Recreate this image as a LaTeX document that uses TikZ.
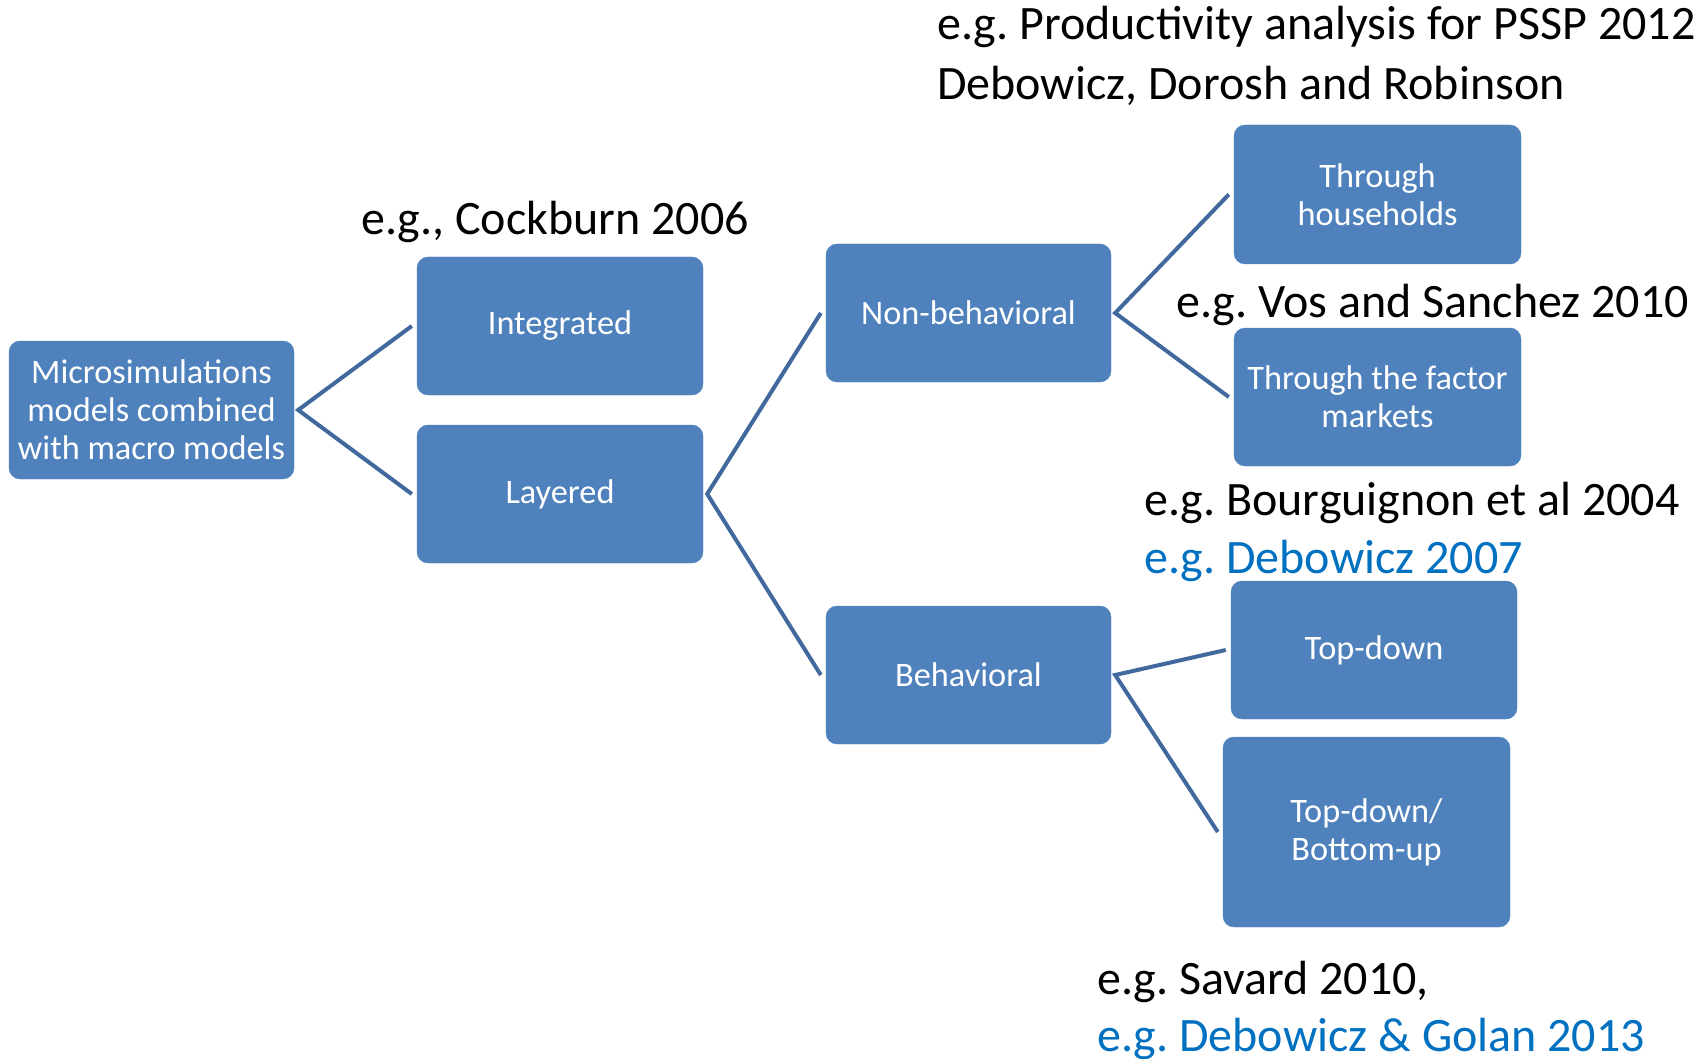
\documentclass[tikz,border=0pt]{standalone}
\usepackage{fontspec}
\setmainfont{Carlito}
\frenchspacing
\definecolor{boxblue}{HTML}{4F81BD}
\definecolor{linkblue}{HTML}{41699E}
\definecolor{refblue}{HTML}{0070C0}
\begin{document}
\begin{tikzpicture}[x=1pt,y=-1pt,
  box/.style={draw=boxblue,fill=boxblue,rounded corners=11pt,minimum width=286pt,minimum height=138pt,
    text=white,align=center,font=\fontsize{34.3}{38}\selectfont,inner sep=0pt},
  link/.style={draw=linkblue,line width=4pt},
  note/.style={anchor=base west,inner sep=0pt,font=\fontsize{48}{58}\selectfont,text=black},
  bluenote/.style={note,text=refblue}]
\useasboundingbox (0,0) rectangle (1708,1059);
\fill[white] (0,0) rectangle (1708,1059);

\node[box,minimum width=285pt] (micro) at (151.5,410) {Microsimulations\\models combined\\with macro models};
\node[box] (integ) at (560,326) {Integrated};
\node[box] (layer) at (560,494) {Layered};
\node[box,minimum width=285pt] (nonbeh) at (968.5,313) {Non-behavioral};
\node[box,minimum width=285pt] (beh) at (968.5,675) {Behavioral};
\node[box,minimum width=287pt,minimum height=139pt] (house) at (1377.5,194.5) {Through\\households};
\node[box,minimum width=287pt] (factor) at (1377.5,397) {Through the factor\\markets};
\node[box] (topdown) at (1374,650) {Top-down};
\node[box,minimum width=287pt,minimum height=190pt] (tdbu) at (1366.5,832) {Top-down/\\Bottom-up};

\draw[link] ([xshift=-5pt]integ.west) -- ([xshift=4pt]micro.east) -- ([xshift=-5pt]layer.west);
\draw[link] ([xshift=-5pt]nonbeh.west) -- ([xshift=4pt]layer.east) -- ([xshift=-5pt]beh.west);
\draw[link] ([xshift=-5pt]house.west) -- ([xshift=4pt]nonbeh.east) -- ([xshift=-5pt]factor.west);
\draw[link] ([xshift=-5pt]topdown.west) -- ([xshift=4pt]beh.east) -- ([xshift=-5pt]tdbu.west);

\node[note] (n1) at (937,40) {e.g. Productivity analysis for PSSP 2012};
\node[note] (n2) at (937,100) {Debowicz, Dorosh and Robinson};
\node[note] (n3) at (361,235) {e.g., Cockburn 2006};
\node[note] (n4) at (1176,317) {e.g. Vos and Sanchez 2010};
\node[note] (n5) at (1144,515) {e.g. Bourguignon et al 2004};
\node[bluenote] (n6) at (1144,573) {e.g. Debowicz 2007};
\node[note] (n7) at (1097,994) {e.g. Savard 2010,};
\node[bluenote] (n8) at (1097,1051) {e.g. Debowicz \& Golan 2013};
\end{tikzpicture}
\end{document}
